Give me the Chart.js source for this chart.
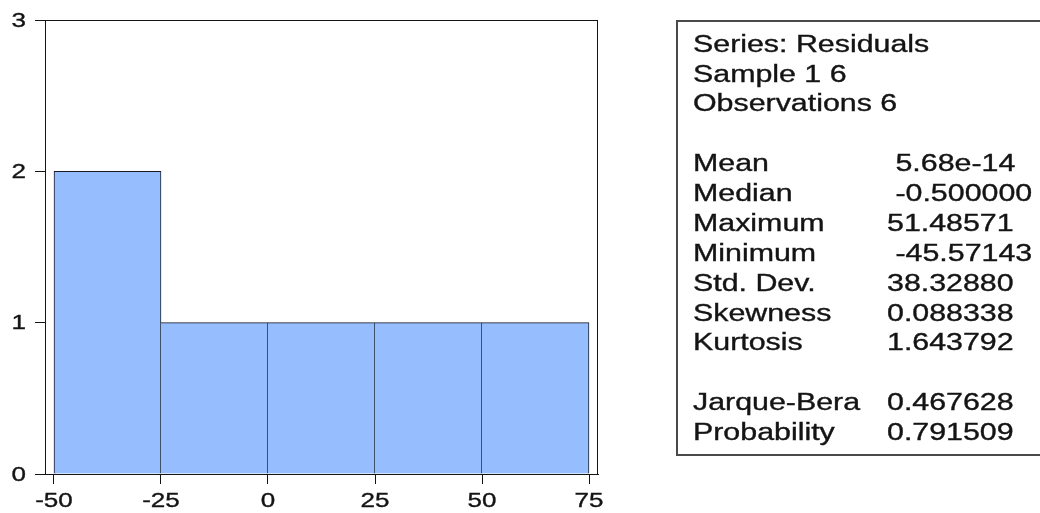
<!DOCTYPE html>
<html>
<head>
<meta charset="utf-8">
<script src="https://cdn.jsdelivr.net/npm/chart.js@4/dist/chart.umd.min.js"></script>
<style>
  html, body { margin: 0; padding: 0; background: #fff; }
  #wrap { width: 1040px; height: 513px; }
</style>
</head>
<body>
<div id="wrap"><canvas id="c" width="1040" height="513"></canvas></div>
<script>
// Histogram of residuals: bins of width 25, given by their centres
const binCentres = [-37.5, -12.5, 12.5, 37.5, 62.5];
const counts = [2, 1, 1, 1, 1];
const xTicks = [-50, -25, 0, 25, 50, 75];
const yTicks = [0, 1, 2, 3];

// Descriptive statistics panel
const headerLines = ['Series: Residuals', 'Sample 1 6', 'Observations 6'];
const statNames = ['Mean', 'Median', 'Maximum', 'Minimum', 'Std. Dev.', 'Skewness', 'Kurtosis'];
const statValues = [' 5.68e-14', ' -0.500000', '51.48571', ' -45.57143', '38.32880', '0.088338', '1.643792'];
const testNames = ['Jarque-Bera', 'Probability'];
const testValues = ['0.467628', '0.791509'];

const INK = '#141414';
const FONT = '"Liberation Sans", Arial, sans-serif';

// draw text stretched horizontally, with a faint outline for weight
function wideText(ctx, txt, x, y, size, sx, align, baseline) {
  ctx.save();
  ctx.translate(x, y);
  ctx.scale(sx, 1);
  ctx.font = size + 'px ' + FONT;
  ctx.fillStyle = INK;
  ctx.strokeStyle = INK;
  ctx.lineWidth = 0.35;
  ctx.textAlign = align;
  ctx.textBaseline = baseline;
  ctx.fillText(txt, 0, 0);
  ctx.strokeText(txt, 0, 0);
  ctx.restore();
}

const decorations = {
  id: 'decorations',
  afterDraw(chart) {
    const ctx = chart.ctx;
    const a = chart.chartArea;
    const xs = chart.scales.x, ys = chart.scales.y;

    // plot frame
    ctx.save();
    ctx.strokeStyle = INK;
    ctx.lineWidth = 1;
    ctx.strokeRect(Math.round(a.left) + 0.5, Math.round(a.top) + 0.5,
                   Math.round(a.right - a.left) - 1, Math.round(a.bottom - a.top));
    ctx.restore();

    // tick labels
    yTicks.forEach(v => {
      wideText(ctx, String(v), 26, ys.getPixelForValue(v) + 1, 20.5, 1.27, 'right', 'middle');
    });
    xTicks.forEach(v => {
      wideText(ctx, String(v), xs.getPixelForValue(v), 501, 20.5, 1.27, 'center', 'middle');
    });

    // statistics panel
    ctx.save();
    ctx.strokeStyle = '#4a4a4a';
    ctx.lineWidth = 2;
    ctx.strokeRect(677, 21, 400, 434);
    ctx.restore();

    const lx = 693, vx = 887, base = 51.7, step = 29.87;
    const size = 23, sx = 1.32;
    headerLines.forEach((t, i) => wideText(ctx, t, lx, base + i * step, size, sx, 'left', 'alphabetic'));
    statNames.forEach((t, i) => {
      const y = base + (4 + i) * step;
      wideText(ctx, t, lx, y, size, sx, 'left', 'alphabetic');
      wideText(ctx, statValues[i], vx, y, size, sx, 'left', 'alphabetic');
    });
    testNames.forEach((t, i) => {
      const y = base + (12 + i) * step;
      wideText(ctx, t, lx, y, size, sx, 'left', 'alphabetic');
      wideText(ctx, testValues[i], vx, y, size, sx, 'left', 'alphabetic');
    });
  }
};

new Chart(document.getElementById('c'), {
  type: 'bar',
  data: {
    datasets: [{
      data: binCentres.map((x, i) => ({ x: x, y: counts[i] })),
      backgroundColor: 'rgb(150,190,255)',
      borderColor: '#161a26',
      borderWidth: ctx => ({ top: 1, right: 1, bottom: 0, left: ctx.dataIndex === 0 ? 1 : 0 }),
      borderSkipped: false,
      barPercentage: 1,
      categoryPercentage: 1
    }]
  },
  options: {
    responsive: false,
    animation: false,
    devicePixelRatio: 1,
    layout: { padding: { top: 20, right: 442, left: 0, bottom: 0 } },
    plugins: { legend: { display: false }, tooltip: { enabled: false } },
    scales: {
      x: {
        type: 'linear',
        offset: false,
        min: -52.1028,
        max: 77.1028,
        afterBuildTicks: s => { s.ticks = xTicks.map(v => ({ value: v })); },
        afterFit: s => { s.height = 39; },
        ticks: { display: false },
        grid: { offset: false, drawOnChartArea: false, drawTicks: true, tickLength: 10, color: INK },
        border: { display: true, color: INK }
      },
      y: {
        type: 'linear',
        min: 0,
        max: 3,
        afterBuildTicks: s => { s.ticks = yTicks.map(v => ({ value: v })); },
        afterFit: s => { s.width = 45; },
        ticks: { display: false },
        grid: { drawOnChartArea: false, drawTicks: true, tickLength: 10, color: INK },
        border: { display: true, color: INK }
      }
    }
  },
  plugins: [decorations]
});
</script>
</body>
</html>
